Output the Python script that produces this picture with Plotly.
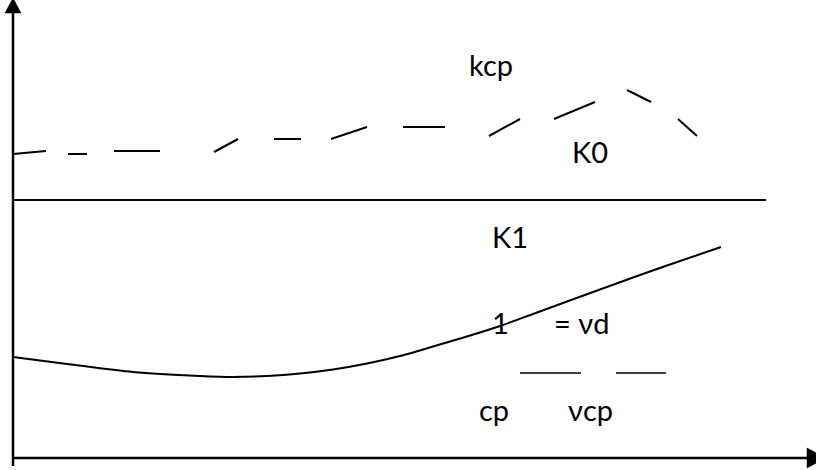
import plotly.graph_objects as go

# Dashed "kcp" curve: individual dash segments (start/end points)
kcp_x0 = [13, 68, 114, 214, 274, 331, 403, 489, 554, 627, 678]
kcp_y0 = [154, 154, 151, 152, 139, 139, 127, 136, 119, 90, 119]
kcp_x1 = [46, 87, 160, 238, 301, 367, 445, 520, 595, 651, 697]
kcp_y1 = [151, 154, 151, 139, 139, 127, 127, 119, 102, 102, 136]

# Horizontal K0 line
k0_x = [13, 766]
k0_y = [200, 200]

# K1 curve
k1_x = [13, 67, 133, 200, 233, 267, 300, 333, 367, 400, 433, 467, 500, 533, 567, 600, 633, 667, 721]
k1_y = [357, 364, 372, 376, 377, 376, 373.5, 369.5, 363.5, 356, 346.5, 336.5, 326, 314, 301.5, 289.5, 277.5, 265.5, 247]

# Fraction bars
frac_x0 = [520, 616]
frac_x1 = [581, 666]
frac_y = [373, 373]

# Axes
origin_x = 13
origin_y = 458
xaxis_end = 807
yaxis_end = 13
yaxis_bottom = 466
xaxis_left = 13

# Text labels
labels = ["kcp", "K0", "K1", "1", "= νd", "cp", "νcp"]
label_x = [491, 590, 510, 500, 581, 494, 590]
label_y = [64, 151, 236, 322, 322, 409, 409]

fig = go.Figure()

dx, dy = [], []
for a, b, c, d in zip(kcp_x0, kcp_y0, kcp_x1, kcp_y1):
    dx += [a, c, None]
    dy += [b, d, None]
fig.add_trace(go.Scatter(x=dx, y=dy, mode="lines",
                         line=dict(color="black", width=2), hoverinfo="skip"))

fig.add_trace(go.Scatter(x=k0_x, y=k0_y, mode="lines",
                         line=dict(color="black", width=2), hoverinfo="skip"))

fig.add_trace(go.Scatter(x=k1_x, y=k1_y, mode="lines",
                         line=dict(color="black", width=2, shape="spline", smoothing=0.7),
                         hoverinfo="skip"))

fx, fy = [], []
for a, c, y in zip(frac_x0, frac_x1, frac_y):
    fx += [a, c, None]
    fy += [y, y, None]
fig.add_trace(go.Scatter(x=fx, y=fy, mode="lines",
                         line=dict(color="black", width=1.5), hoverinfo="skip"))

# axis lines
fig.add_trace(go.Scatter(x=[xaxis_left, xaxis_end], y=[origin_y, origin_y], mode="lines",
                         line=dict(color="black", width=2.5), hoverinfo="skip"))
fig.add_trace(go.Scatter(x=[origin_x, origin_x], y=[yaxis_bottom, yaxis_end], mode="lines",
                         line=dict(color="black", width=2.5), hoverinfo="skip"))

# arrow heads (derived from axis ends)
head_len_x, head_half_x = 19, 10
head_len_y, head_half_y = 15, 8
fig.add_trace(go.Scatter(
    x=[xaxis_end, xaxis_end, xaxis_end + head_len_x, xaxis_end],
    y=[origin_y - head_half_x, origin_y + head_half_x, origin_y, origin_y - head_half_x],
    mode="lines", fill="toself", fillcolor="black",
    line=dict(color="black", width=0.5), hoverinfo="skip"))
fig.add_trace(go.Scatter(
    x=[origin_x - head_half_y, origin_x + head_half_y, origin_x, origin_x - head_half_y],
    y=[yaxis_end, yaxis_end, yaxis_end - head_len_y, yaxis_end],
    mode="lines", fill="toself", fillcolor="black",
    line=dict(color="black", width=0.5), hoverinfo="skip"))

for t, x, y in zip(labels, label_x, label_y):
    fig.add_annotation(x=x, y=y, text=t, showarrow=False,
                       xanchor="center", yanchor="middle",
                       font=dict(family="Lato, 'Open Sans', sans-serif", size=29, color="black"))

fig.update_layout(
    width=816, height=470,
    margin=dict(l=0, r=0, t=0, b=0),
    paper_bgcolor="white", plot_bgcolor="white",
    showlegend=False,
    xaxis=dict(range=[0, 816], visible=False, fixedrange=True),
    yaxis=dict(range=[470, 0], visible=False, fixedrange=True),
)

fig.write_html("out.html", config={"displayModeBar": False},
               post_script="document.body.style.margin='0';document.body.style.overflow='hidden';")
